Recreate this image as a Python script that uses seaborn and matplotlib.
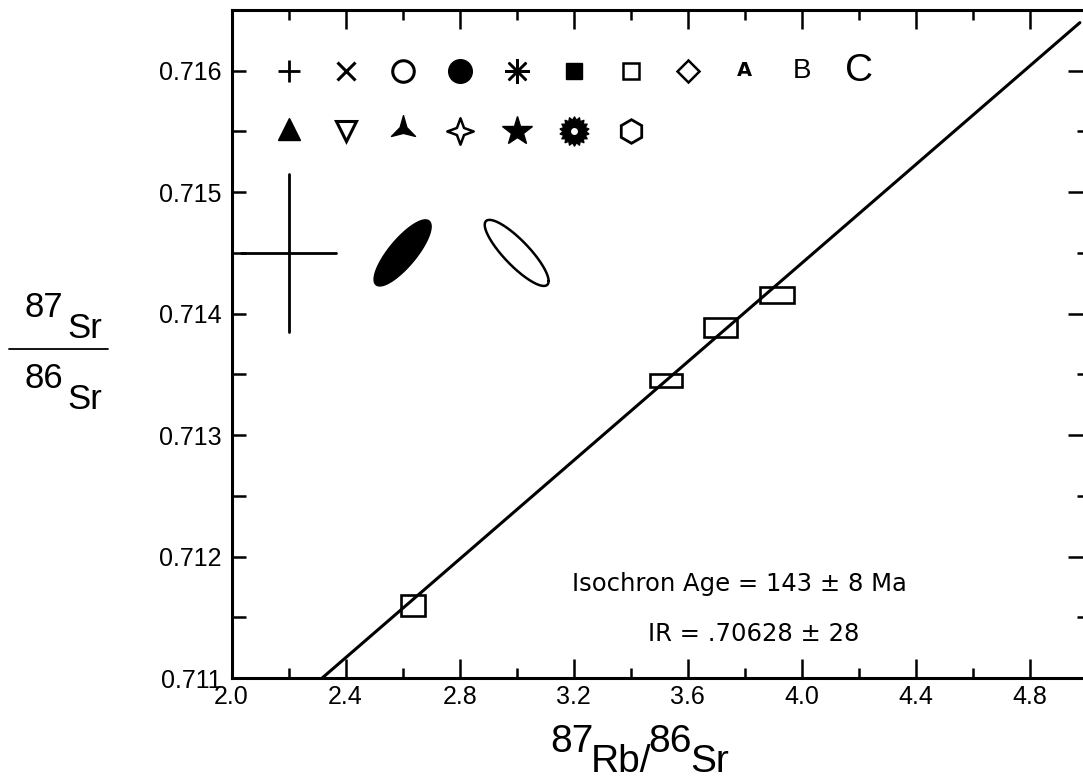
import numpy as np
import matplotlib
matplotlib.use("Agg")
import matplotlib.pyplot as plt
import seaborn as sns
from matplotlib.patches import Rectangle
from matplotlib.path import Path
from matplotlib.lines import Line2D
from matplotlib.ticker import FixedLocator, FormatStrFormatter

# ---------------- data ----------------
rb_sr = [2.6375, 3.523, 3.715, 3.9135]          # 87Rb/86Sr
sr_sr = [0.711594, 0.7134505, 0.7138853, 0.71415]  # 87Sr/86Sr
rb_err = [0.042, 0.0555, 0.0583, 0.0607]
sr_err = [0.0000866, 0.0000553, 0.0000771, 0.000066]

iso_x = [2.318, 4.975]
iso_y = [0.711, 0.716396]

x_major = [2.0, 2.4, 2.8, 3.2, 3.6, 4.0, 4.4, 4.8]
x_minor = [2.2, 2.6, 3.0, 3.4, 3.8, 4.2, 4.6]
y_major = [0.711, 0.712, 0.713, 0.714, 0.715, 0.716]
y_minor = [0.7115, 0.7125, 0.7135, 0.7145, 0.7155]

sym_row1_x = [2.2, 2.4, 2.6, 2.8, 3.0, 3.2, 3.4, 3.6, 3.8, 4.0, 4.2]
sym_row1_y = 0.716
sym_row2_x = [2.2, 2.4, 2.6, 2.8, 3.0, 3.2, 3.4]
sym_row2_y = 0.7155

cross_center = (2.2, 0.7145)
cross_err = (0.165, 0.00065)
ell_centers = [(2.6, 0.7145), (3.0, 0.7145)]
ell_sx = [0.1, 0.112]
ell_sy = [0.000272, 0.000272]
ell_rho = [0.8, -0.85]
ell_filled = [True, False]

annot_age = "Isochron Age = 143 \u00b1 8 Ma"
annot_ir = "IR = .70628 \u00b1 28"

# ---------------- style ----------------
sns.set_style("ticks")
plt.rcParams["font.family"] = ["Liberation Sans", "DejaVu Sans"]
LAB = ["Liberation Sans", "DejaVu Sans"]

W, H = 1083, 782
fig = plt.figure(figsize=(W / 100, H / 100), dpi=100)
ax = fig.add_axes([231.5 / W, 1 - 678 / H, (1087 - 231.5) / W, 668 / H])
ax.set_xlim(2.0, 5.0)
ax.set_ylim(0.711, 0.7165)

for s in ax.spines.values():
    s.set_linewidth(2.2)
    s.set_color("black")

ax.xaxis.set_major_locator(FixedLocator(x_major))
ax.xaxis.set_minor_locator(FixedLocator(x_minor))
ax.yaxis.set_major_locator(FixedLocator(y_major))
ax.yaxis.set_minor_locator(FixedLocator(y_minor))
ax.xaxis.set_major_formatter(FormatStrFormatter("%.1f"))
ax.yaxis.set_major_formatter(FormatStrFormatter("%.3f"))

ax.tick_params(axis="both", which="both", direction="in", top=True, right=True,
               width=1.8, color="black", labelsize=18, labelcolor="black")
ax.tick_params(axis="x", which="major", length=14, pad=5)
ax.tick_params(axis="x", which="minor", length=7)
ax.tick_params(axis="y", which="major", length=10, pad=7)
ax.tick_params(axis="y", which="minor", length=10)
for t in ax.yaxis.get_major_ticks():
    t.tick2line.set_markersize(14)
for t in ax.yaxis.get_minor_ticks():
    t.tick2line.set_markersize(7)

# ---------------- isochron and data boxes ----------------
sns.lineplot(x=iso_x, y=iso_y, ax=ax, color="black", linewidth=2.2,
             estimator=None, sort=False, zorder=2)
for x, y, dx, dy in zip(rb_sr, sr_sr, rb_err, sr_err):
    ax.add_patch(Rectangle((x - dx, y - dy), 2 * dx, 2 * dy, fill=False,
                           edgecolor="black", linewidth=1.9, zorder=3))

# ---------------- symbol key ----------------
k = dict(color="black", linestyle="none", zorder=4)
r1x, r1y = sym_row1_x, sym_row1_y
ax.plot(r1x[0], r1y, marker="+", ms=16.5, mew=2.0, **k)
ax.plot(r1x[1], r1y, marker="x", ms=12.5, mew=2.2, **k)
ax.plot(r1x[2], r1y, marker="o", ms=15.5, mew=2.2, mfc="white", **k)
ax.plot(r1x[3], r1y, marker="o", ms=17, mew=1, **k)
ax.plot(r1x[4], r1y, marker=(8, 2, 0), ms=18, mew=1.8, **k)
ax.plot(r1x[5], r1y, marker="s", ms=11.5, mew=1, **k)
ax.plot(r1x[6], r1y, marker="s", ms=11, mew=1.8, mfc="white", **k)
ax.plot(r1x[7], r1y, marker="D", ms=11, mew=1.8, mfc="white", **k)
ax.text(r1x[8], r1y, "A", fontsize=14, family=["DejaVu Sans"], weight="bold",
        ha="center", va="center", color="black")
ax.text(r1x[9], r1y, "B", fontsize=20, family=LAB, ha="center",
        va="center", color="black")
ax.text(r1x[10], r1y, "C", fontsize=28, family=LAB, ha="center",
        va="center", color="black")

r2x, r2y = sym_row2_x, sym_row2_y
ax.plot(r2x[0], r2y + 0.00002, marker="^", ms=16.5, mew=1, **k)
ax.plot(r2x[1], r2y, marker="v", ms=15, mew=2.2, mfc="white", **k)
ax.plot(r2x[2], r2y + 0.00002, marker=Path.unit_regular_star(3, 0.28), ms=20, mew=1, **k)
ax.plot(r2x[3], r2y, marker=Path.unit_regular_star(4, 0.38), ms=19, mew=1.8,
        mfc="white", **k)
ax.plot(r2x[4], r2y, marker="*", ms=22, mew=1, **k)
ax.plot(r2x[5], r2y, marker=Path.unit_regular_star(18, 0.78), ms=21, mew=1, **k)
ax.plot(r2x[5], r2y, marker="o", ms=5, mew=0, mfc="white", linestyle="none", zorder=5)
ax.plot(r2x[6], r2y, marker="h", ms=17, mew=2.0, mfc="white", **k)

# error cross
cx, cy = cross_center
ax.plot([cx - cross_err[0], cx + cross_err[0]], [cy, cy], color="black", lw=2.0)
ax.plot([cx, cx], [cy - cross_err[1], cy + cross_err[1]], color="black", lw=2.0)

# error ellipses
t = np.linspace(0, 2 * np.pi, 200)
for (ex, ey), sx, sy, rho, filled in zip(ell_centers, ell_sx, ell_sy, ell_rho, ell_filled):
    xs = ex + sx * np.cos(t)
    ys = ey + sy * (rho * np.cos(t) + np.sqrt(1 - rho ** 2) * np.sin(t))
    if filled:
        ax.fill(xs, ys, color="black", lw=1)
    else:
        ax.plot(xs, ys, color="black", lw=1.8)

# annotations
ax.text(3.194, 0.71172, annot_age, fontsize=17.5, family=["DejaVu Sans"],
        ha="left", va="baseline", color="black")
ax.text(3.46, 0.711305, annot_ir, fontsize=17.5, family=["DejaVu Sans"],
        ha="left", va="baseline", color="black")

ax.set_xlabel("")
ax.set_ylabel("")

# ---------------- axis labels (pixel placed) ----------------
def ftext(x, y, s, size):
    fig.text(x / W, 1 - y / H, s, fontsize=size, family=LAB, ha="left",
             va="baseline", color="black")

# y label: 87Sr / 86Sr
ftext(24, 317, "87", 25)
ftext(67, 338, "Sr", 25)
fig.add_artist(Line2D([9 / W, 108 / W], [1 - 349 / H, 1 - 349 / H],
                      color="black", lw=1.3))
ftext(24, 388, "86", 25)
ftext(67, 409, "Sr", 25)

# x label: 87Rb/86Sr
ftext(550, 752, "87", 28)
ftext(591, 772, "Rb/", 28)
ftext(648, 752, "86", 28)
ftext(690, 772, "Sr", 28)

fig.savefig("out.png", dpi=100, facecolor="white")
